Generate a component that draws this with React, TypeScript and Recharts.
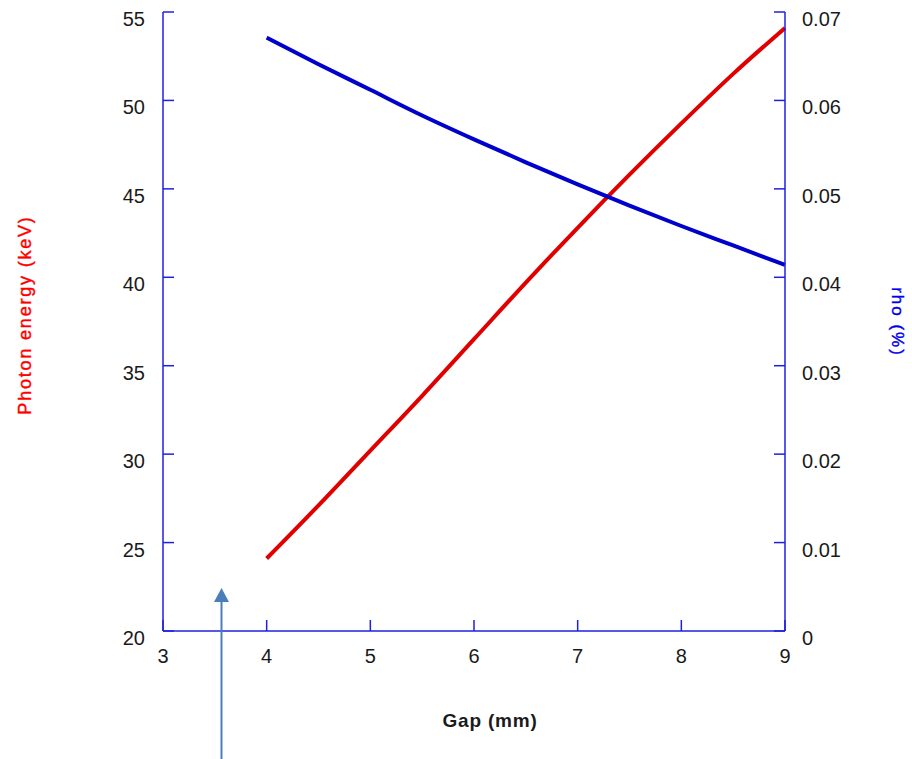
import { LineChart, Line, XAxis, YAxis } from 'recharts'

// gap in mm, photon energy in keV, rho in %
const gapMm = [4, 4.5, 5, 5.5, 6, 6.5, 7, 7.5, 8, 8.5, 9]
const photonKeV = [24.1, 27.1, 30.2, 33.3, 36.5, 39.7, 42.8, 45.8, 48.7, 51.5, 54.1]
const rhoPct = [0.0671, 0.0641, 0.0612, 0.0583, 0.0556, 0.053, 0.0505, 0.0481, 0.0458, 0.0436, 0.0414]

const gapTicks = [3, 4, 5, 6, 7, 8, 9]
const energyTicks = [20, 25, 30, 35, 40, 45, 50, 55]
const rhoTicks = [0, 0.01, 0.02, 0.03, 0.04, 0.05, 0.06, 0.07]

const data = gapMm.map((g, i) => ({ gap: g, energy: photonKeV[i], rho: rhoPct[i] }))

const W = 912
const H = 759
const AXIS = '#1f1fe0'
const TICK_LEN = 11
const FONT = '"Liberation Sans", Arial, sans-serif'
const tickText = { fontFamily: FONT, fontSize: 20, fill: '#1a1a1a' }

// ticks point into the plot; labels sit outside the frame
const LeftTick = (p: any) => {
  const ax = p.x + 18
  return (
    <g>
      <line x1={ax} x2={ax + TICK_LEN} y1={p.y} y2={p.y} stroke={AXIS} strokeWidth={1.5} />
      <text x={p.x} y={p.y + 7} textAnchor="end" dominantBaseline="central" {...tickText}>
        {p.payload.value}
      </text>
    </g>
  )
}

const RightTick = (p: any) => {
  const ax = p.x - 17
  return (
    <g>
      <line x1={ax} x2={ax - TICK_LEN} y1={p.y} y2={p.y} stroke={AXIS} strokeWidth={1.5} />
      <text x={p.x} y={p.y + 7} textAnchor="start" dominantBaseline="central" {...tickText}>
        {p.payload.value}
      </text>
    </g>
  )
}

const BottomTick = (p: any) => {
  const ay = p.y - 25
  return (
    <g>
      <line x1={p.x} x2={p.x} y1={ay} y2={ay - TICK_LEN} stroke={AXIS} strokeWidth={1.5} />
      <text x={p.x} y={p.y} textAnchor="middle" dominantBaseline="central" {...tickText}>
        {p.payload.value}
      </text>
    </g>
  )
}

const TopTick = (p: any) => (
  <line x1={p.x} x2={p.x} y1={p.y} y2={p.y + TICK_LEN} stroke={AXIS} strokeWidth={1.5} />
)

export default function App() {
  return (
    <div style={{ position: 'relative', width: W, height: H, background: '#fff' }}>
      <style>{'body{margin:0}'}</style>
      <LineChart width={W} height={H} data={data} margin={{ top: 12, right: 67, bottom: 98, left: 103 }}>
        <XAxis
          dataKey="gap"
          type="number"
          domain={[3, 9]}
          ticks={gapTicks}
          interval={0}
          height={30}
          tickSize={0}
          tickMargin={25}
          tick={BottomTick}
          axisLine={{ stroke: AXIS, strokeWidth: 1.5 }}
        />
        <XAxis
          xAxisId="top"
          dataKey="gap"
          type="number"
          orientation="top"
          domain={[3, 9]}
          ticks={gapTicks}
          interval={0}
          height={0}
          tickSize={0}
          tickMargin={0}
          tick={TopTick}
          axisLine={{ stroke: AXIS, strokeWidth: 1.5 }}
        />
        <YAxis
          yAxisId="left"
          type="number"
          domain={[20, 55]}
          ticks={energyTicks}
          interval={0}
          width={60}
          tickSize={0}
          tickMargin={18}
          tick={LeftTick}
          axisLine={{ stroke: AXIS, strokeWidth: 1.5 }}
        />
        <YAxis
          yAxisId="right"
          orientation="right"
          type="number"
          domain={[0, 0.07]}
          ticks={rhoTicks}
          interval={0}
          width={60}
          tickSize={0}
          tickMargin={17}
          tick={RightTick}
          axisLine={{ stroke: AXIS, strokeWidth: 1.5 }}
        />
        <Line
          yAxisId="left"
          dataKey="energy"
          type="monotone"
          stroke="#e00000"
          strokeWidth={4}
          dot={false}
          isAnimationActive={false}
        />
        <Line
          yAxisId="right"
          dataKey="rho"
          type="monotone"
          stroke="#0000cc"
          strokeWidth={4}
          dot={false}
          isAnimationActive={false}
        />
      </LineChart>
      <svg width={W} height={H} style={{ position: 'absolute', left: 0, top: 0, pointerEvents: 'none' }}>
        <text
          x={25}
          y={315}
          transform="rotate(-90 25 315)"
          textAnchor="middle"
          dominantBaseline="central"
          fontFamily={FONT}
          fontSize={18}
          letterSpacing={1.8}
          fill="#ff0000"
          stroke="#ff0000"
          strokeWidth={0.4}
        >
          Photon energy (keV)
        </text>
        <text
          x={897}
          y={322}
          transform="rotate(90 897 322)"
          textAnchor="middle"
          dominantBaseline="central"
          fontFamily={FONT}
          fontSize={17}
          letterSpacing={2}
          fill="#0000ee"
          stroke="#0000ee"
          strokeWidth={0.4}
        >
          rho (%)
        </text>
        <text
          x={490}
          y={720}
          textAnchor="middle"
          dominantBaseline="central"
          fontFamily={FONT}
          fontSize={19}
          fontWeight="bold"
          letterSpacing={0.8}
          fill="#1a1a1a"
        >
          Gap (mm)
        </text>
        {/* pointer arrow below the 4 mm start */}
        <line x1={221.5} x2={221.5} y1={600} y2={759} stroke="#4a7ebb" strokeWidth={2} />
        <polygon points="221.5,588 214,602 229,602" fill="#4a7ebb" />
      </svg>
    </div>
  )
}
